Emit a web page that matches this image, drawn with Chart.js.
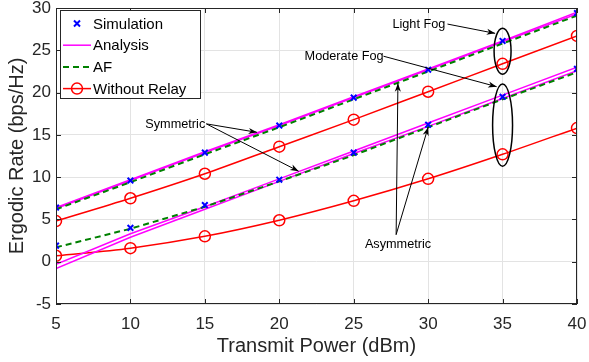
<!DOCTYPE html>
<html>
<head>
<meta charset="utf-8">
<script src="https://cdn.jsdelivr.net/npm/chart.js@4/dist/chart.umd.min.js"></script>
<style>
  body { margin: 0; background: #fff; }
  canvas { display: block; }
</style>
</head>
<body>
<canvas id="rate" width="589" height="362"></canvas>
<script>
const power = [5, 10, 15, 20, 25, 30, 35, 40];

// light fog
const simLight = [6.4, 9.6, 12.9, 16.1, 19.4, 22.7, 26.1, 29.4];
const anaLightSym = [6.4, 9.7, 13.0, 16.2, 19.5, 22.8, 26.1, 29.5];
const anaLightAsym = [6.3, 9.6, 12.9, 16.1, 19.4, 22.7, 26.0, 29.3];
const afLight = [6.2, 9.4, 12.7, 15.9, 19.2, 22.5, 25.8, 29.1];
const noRelayLight = [4.8, 7.5, 10.4, 13.6, 16.8, 20.1, 23.4, 26.7];

// moderate fog
const simModerate = [1.9, 4.0, 6.7, 9.7, 12.9, 16.2, 19.5, 22.8];
const anaModSym = [-0.3, 3.3, 6.5, 9.8, 13.1, 16.4, 19.7, 23.0];
const anaModAsym = [-0.8, 2.9, 6.2, 9.5, 12.8, 16.0, 19.3, 22.6];
const afModerate = [1.7, 3.9, 6.5, 9.5, 12.6, 15.9, 19.2, 22.4];
const noRelayModerate = [0.7, 1.6, 3.0, 4.9, 7.2, 9.8, 12.7, 15.8];

const xTicks = [5, 10, 15, 20, 25, 30, 35, 40];
const yTicks = [-5, 0, 5, 10, 15, 20, 25, 30];

const pts = ys => power.map((x, i) => ({x: x, y: ys[i]}));

const INK = '#262626';
const FONT = '"Liberation Sans", Arial, sans-serif';

const simStyle = {
  showLine: false, borderColor: '#0000ff', backgroundColor: '#0000ff',
  pointStyle: 'crossRot', pointRadius: 4, pointBorderWidth: 2
};
const anaStyle = {
  borderColor: '#ff00ff', borderWidth: 1.5, pointRadius: 0
};
const afStyle = {
  borderColor: '#008000', borderWidth: 2, borderDash: [6, 4], pointRadius: 0
};
const nrStyle = {
  borderColor: '#ff0000', borderWidth: 1.5, pointStyle: 'circle', pointRadius: 5.5,
  pointBorderWidth: 1.5, pointBackgroundColor: 'rgba(0,0,0,0)', pointBorderColor: '#ff0000',
  cubicInterpolationMode: 'monotone'
};

const datasets = [
  Object.assign({label: 'Simulation', data: pts(simLight)}, simStyle),
  Object.assign({label: 'Simulation', data: pts(simModerate)}, simStyle),
  Object.assign({label: 'AF', data: pts(afLight)}, afStyle),
  Object.assign({label: 'AF', data: pts(afModerate)}, afStyle),
  Object.assign({label: 'Analysis', data: pts(anaLightSym)}, anaStyle),
  Object.assign({label: 'Analysis', data: pts(anaLightAsym)}, anaStyle),
  Object.assign({label: 'Analysis', data: pts(anaModSym)}, anaStyle),
  Object.assign({label: 'Analysis', data: pts(anaModAsym)}, anaStyle),
  Object.assign({label: 'Without Relay', data: pts(noRelayLight)}, nrStyle),
  Object.assign({label: 'Without Relay', data: pts(noRelayModerate)}, nrStyle)
];

// annotation text / arrows in data coordinates
const notes = [
  {text: 'Light Fog', x: 27.6, y: 28.0},
  {text: 'Moderate Fog', x: 21.7, y: 24.3},
  {text: 'Symmetric', x: 11.0, y: 16.2},
  {text: 'Asymmetric', x: 25.75, y: 2.0}
];
const arrows = [
  [31.3, 28.1, 34.5, 27.0],
  [27.0, 24.3, 34.6, 20.7],
  [15.1, 16.3, 18.5, 15.3],
  [15.1, 16.3, 21.3, 10.7],
  [27.85, 3.2, 27.97, 21.1],
  [27.85, 3.2, 30.0, 15.9]
];
const ellipses = [
  {x: 35, y: 24.9, rx: 0.57, ry: 2.72},
  {x: 35, y: 16.15, rx: 0.67, ry: 4.85}
];

const decor = {
  id: 'decor',
  afterDatasetsDraw(chart) {
    const ctx = chart.ctx, a = chart.chartArea;
    const sx = chart.scales.x, sy = chart.scales.y;
    ctx.save();
    // box and inner ticks
    ctx.strokeStyle = INK;
    ctx.lineWidth = 1;
    ctx.strokeRect(a.left + 0.5, a.top + 0.5, a.right - a.left - 1, a.bottom - a.top - 1);
    ctx.beginPath();
    xTicks.forEach(t => {
      const px = Math.round(sx.getPixelForValue(t)) + 0.5;
      ctx.moveTo(px, a.bottom); ctx.lineTo(px, a.bottom - 5);
      ctx.moveTo(px, a.top); ctx.lineTo(px, a.top + 5);
    });
    yTicks.forEach(t => {
      const py = Math.round(sy.getPixelForValue(t)) + 0.5;
      ctx.moveTo(a.left, py); ctx.lineTo(a.left + 5, py);
      ctx.moveTo(a.right, py); ctx.lineTo(a.right - 5, py);
    });
    ctx.stroke();

    // ellipses
    ctx.strokeStyle = '#000';
    ctx.lineWidth = 1.5;
    ellipses.forEach(e => {
      const cx = sx.getPixelForValue(e.x), cy = sy.getPixelForValue(e.y);
      const rx = sx.getPixelForValue(e.x + e.rx) - cx;
      const ry = cy - sy.getPixelForValue(e.y + e.ry);
      ctx.beginPath();
      ctx.ellipse(cx, cy, rx, ry, 0, 0, Math.PI * 2);
      ctx.stroke();
    });

    // arrows
    ctx.lineWidth = 1;
    ctx.fillStyle = '#000';
    arrows.forEach(r => {
      const x1 = sx.getPixelForValue(r[0]), y1 = sy.getPixelForValue(r[1]);
      const x2 = sx.getPixelForValue(r[2]), y2 = sy.getPixelForValue(r[3]);
      const ang = Math.atan2(y2 - y1, x2 - x1);
      ctx.beginPath();
      ctx.moveTo(x1, y1); ctx.lineTo(x2, y2);
      ctx.stroke();
      ctx.beginPath();
      ctx.moveTo(x2, y2);
      ctx.lineTo(x2 - 9 * Math.cos(ang - 0.35), y2 - 9 * Math.sin(ang - 0.35));
      ctx.lineTo(x2 - 6 * Math.cos(ang), y2 - 6 * Math.sin(ang));
      ctx.lineTo(x2 - 9 * Math.cos(ang + 0.35), y2 - 9 * Math.sin(ang + 0.35));
      ctx.closePath();
      ctx.fill();
    });

    ctx.font = '12.7px ' + FONT;
    ctx.fillStyle = '#000';
    ctx.textBaseline = 'middle';
    ctx.textAlign = 'left';
    notes.forEach(n => {
      ctx.fillText(n.text, sx.getPixelForValue(n.x), sy.getPixelForValue(n.y));
    });

    // legend
    const lx = a.left + 4, ly = a.top + 2, lw = 140, lh = 88;
    ctx.fillStyle = '#fff';
    ctx.fillRect(lx, ly, lw, lh);
    ctx.strokeStyle = INK;
    ctx.lineWidth = 1;
    ctx.strokeRect(lx + 0.5, ly + 0.5, lw, lh);
    const items = [datasets[0], datasets[4], datasets[2], datasets[8]];
    ctx.font = '15px ' + FONT;
    items.forEach((d, i) => {
      const cy = ly + 13.5 + i * 21.7;
      const x0 = lx + 3, x1 = lx + 31, xm = (x0 + x1) / 2;
      if (d.showLine !== false) {
        ctx.strokeStyle = d.borderColor;
        ctx.lineWidth = d.borderWidth;
        ctx.setLineDash(d.borderDash || []);
        ctx.beginPath();
        ctx.moveTo(x0, cy); ctx.lineTo(x1, cy);
        ctx.stroke();
        ctx.setLineDash([]);
      }
      if (d.pointRadius > 0) {
        ctx.strokeStyle = d.borderColor;
        ctx.lineWidth = d.pointBorderWidth;
        ctx.beginPath();
        if (d.pointStyle === 'crossRot') {
          const r = 3;
          ctx.moveTo(xm - r, cy - r); ctx.lineTo(xm + r, cy + r);
          ctx.moveTo(xm + r, cy - r); ctx.lineTo(xm - r, cy + r);
        } else {
          ctx.arc(xm, cy, d.pointRadius, 0, Math.PI * 2);
        }
        ctx.stroke();
      }
      ctx.fillStyle = '#000';
      ctx.fillText(d.label, lx + 33, cy + 1);
    });
    ctx.restore();
  }
};

new Chart(document.getElementById('rate'), {
  type: 'line',
  data: {datasets: datasets},
  options: {
    responsive: false,
    animation: false,
    layout: {padding: {top: 8, right: 12, left: 0, bottom: 0}},
    plugins: {legend: {display: false}, tooltip: {enabled: false}},
    scales: {
      x: {
        type: 'linear', min: 5, max: 40,
        afterBuildTicks: s => { s.ticks = xTicks.map(v => ({value: v})); },
        afterFit: s => { s.height = 58; s.paddingLeft = 0; s.paddingRight = 0; },
        grid: {color: '#e3e3e3', drawTicks: false},
        border: {display: false},
        ticks: {color: INK, padding: 10, font: {family: FONT, size: 17}},
        title: {display: true, text: 'Transmit Power (dBm)', color: INK,
                font: {family: FONT, size: 20}, padding: {top: 0, bottom: 4}}
      },
      y: {
        min: -5, max: 30,
        afterBuildTicks: s => { s.ticks = yTicks.map(v => ({value: v})); },
        afterFit: s => { s.width = 56; s.paddingTop = 0; s.paddingBottom = 0; },
        grid: {color: '#e3e3e3', drawTicks: false},
        border: {display: false},
        ticks: {color: INK, padding: 5, font: {family: FONT, size: 17}},
        title: {display: true, text: 'Ergodic Rate (bps/Hz)', color: INK,
                font: {family: FONT, size: 20}, padding: {top: 5, bottom: 0}}
      }
    }
  },
  plugins: [decor]
});
</script>
</body>
</html>
